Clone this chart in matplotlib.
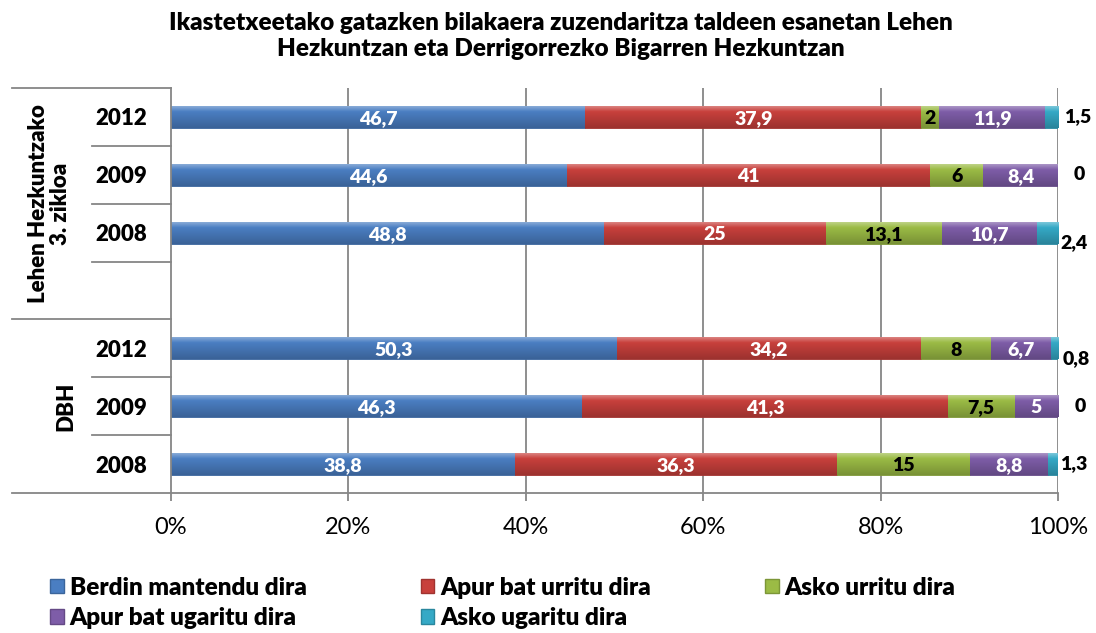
import numpy as np
import matplotlib
matplotlib.use("Agg")
import matplotlib.pyplot as plt
from matplotlib.colors import to_rgb
from matplotlib.transforms import blended_transform_factory
from matplotlib.patches import Patch

# ---- data -------------------------------------------------------------
years = ["2012", "2009", "2008", "", "2012", "2009", "2008"]
groups = ["Lehen Hezkuntzako\n3. zikloa", "DBH"]
series = ["Berdin mantendu dira", "Apur bat urritu dira", "Asko urritu dira",
          "Apur bat ugaritu dira", "Asko ugaritu dira"]

berdin = [46.7, 44.6, 48.8, None, 50.3, 46.3, 38.8]
apur_urritu = [37.9, 41.0, 25.0, None, 34.2, 41.3, 36.3]
asko_urritu = [2.0, 6.0, 13.1, None, 8.0, 7.5, 15.0]
apur_ugaritu = [11.9, 8.4, 10.7, None, 6.7, 5.0, 8.8]
asko_ugaritu = [1.5, 0.0, 2.4, None, 0.8, 0.0, 1.3]

values = [berdin, apur_urritu, asko_urritu, apur_ugaritu, asko_ugaritu]
xticks = [0, 20, 40, 60, 80, 100]

# ---- style ------------------------------------------------------------
colors = ["#4A7EC2", "#C8403C", "#9BBB45", "#7E5DA8", "#35A9C6"]
label_colors = ["white", "white", "black", "white", None]
# pixel offsets of the outside labels of the last series
outside_offsets = [(20, 0), (21, 0), (16, -10), (18, -10), (22, 0), (16, 0)]
grid_col = "#868686"
bar_h = 0.38
W = "heavy"

plt.rcParams["font.family"] = ["Lato", "DejaVu Sans"]

fig = plt.figure(figsize=(10.96, 6.33), dpi=100)
ax = fig.add_axes([171 / 1096, 1 - 493 / 633, 887 / 1096, 405 / 633])


def fmt(v):
    return f"{v:g}".replace(".", ",")


def gradient(color):
    base = np.array(to_rgb(color))
    light = base + (1 - base) * 0.35
    dark = base * 0.78
    t = np.linspace(0, 1, 64)[:, None]
    rows = np.where(t < 0.25,
                    light + (base - light) * (t / 0.25),
                    base + (dark - base) * ((t - 0.25) / 0.75))
    return rows[:, None, :]


ax.set_axisbelow(True)
for xv in xticks[1:]:
    ax.axvline(xv, color=grid_col, lw=1.3, zorder=0)

k = 0
for i, yr in enumerate(years):
    if berdin[i] is None:
        continue
    y = i + 0.5
    left = 0.0
    for s, vals in enumerate(values):
        v = vals[i]
        w = min(v, 100 - left)
        if w > 0:
            bars = ax.barh(y, w, left=left, height=bar_h, color=colors[s],
                           edgecolor=np.array(to_rgb(colors[s])) * 0.8,
                           lw=0.6, zorder=2)
            patch = bars.patches[0]
            im = ax.imshow(gradient(colors[s]),
                           extent=(left, left + w, y + bar_h / 2, y - bar_h / 2),
                           aspect="auto", interpolation="bilinear", zorder=2.5)
            im.set_clip_path(patch)
        if s < 4:
            ax.text(left + w / 2, y + 0.03, fmt(v), ha="center", va="center",
                    color=label_colors[s], fontsize=14, fontweight=W,
                    zorder=4)
        else:
            dx, dy = outside_offsets[k]
            ax.annotate(fmt(v), xy=(100, y), xytext=(dx, dy),
                        textcoords="offset pixels", ha="center", va="center",
                        fontsize=14, fontweight=W, color="black",
                        annotation_clip=False)
        left += w
    k += 1

ax.set_xlim(0, 100)
ax.set_ylim(7, 0)
ax.set_aspect("auto")

ax.set_xticks(xticks)
ax.set_xticklabels([f"{t}%" for t in xticks], fontsize=17)
ax.tick_params(axis="x", length=6, width=1.3, color=grid_col, pad=11)

ax.set_yticks([i + 0.5 for i in range(len(years))])
ax.set_yticklabels(years, fontsize=16, fontweight=W)
ax.tick_params(axis="y", length=0, pad=17)

for side in ("top", "right"):
    ax.spines[side].set_visible(False)
for side in ("left", "bottom"):
    ax.spines[side].set_color(grid_col)
    ax.spines[side].set_linewidth(1.3)

# category separators on the left
trans = blended_transform_factory(ax.transAxes, ax.transData)
for yb in (1, 2, 3, 5, 6):
    ax.plot([-0.089, 0], [yb, yb], color=grid_col, lw=1.3,
            transform=trans, clip_on=False)
for yb in (0, 4, 7):
    ax.plot([-0.179, 0], [yb, yb], color=grid_col, lw=1.3,
            transform=trans, clip_on=False)

ax.text(-0.137, 2.0, groups[0], transform=trans, rotation=90, ha="center",
        va="center", fontsize=16, fontweight=W, linespacing=1.1)
ax.text(-0.119, 5.5, groups[1], transform=trans, rotation=90, ha="center",
        va="center", fontsize=16, fontweight=W)

fig.text(0.512, 1 - 36 / 633,
         "Ikastetxeetako gatazken bilakaera zuzendaritza taldeen esanetan Lehen\n"
         "Hezkuntzan eta Derrigorrezko Bigarren Hezkuntzan",
         ha="center", va="center", fontsize=17.5, fontweight=W,
         linespacing=1.2)

handles = [Patch(facecolor=c, edgecolor=np.array(to_rgb(c)) * 0.8) for c in colors]
order = [0, 3, 1, 4, 2]
fig.legend([handles[o] for o in order], [series[o] for o in order],
           ncol=3, loc="center left", bbox_to_anchor=(38 / 1096, 1 - 603 / 633),
           frameon=False, prop={"weight": W, "size": 17.5},
           handlelength=0.55, handleheight=0.55, handletextpad=0.25,
           columnspacing=4.7, labelspacing=0.35, borderpad=0.0)

fig.savefig("out.png", dpi=100)
